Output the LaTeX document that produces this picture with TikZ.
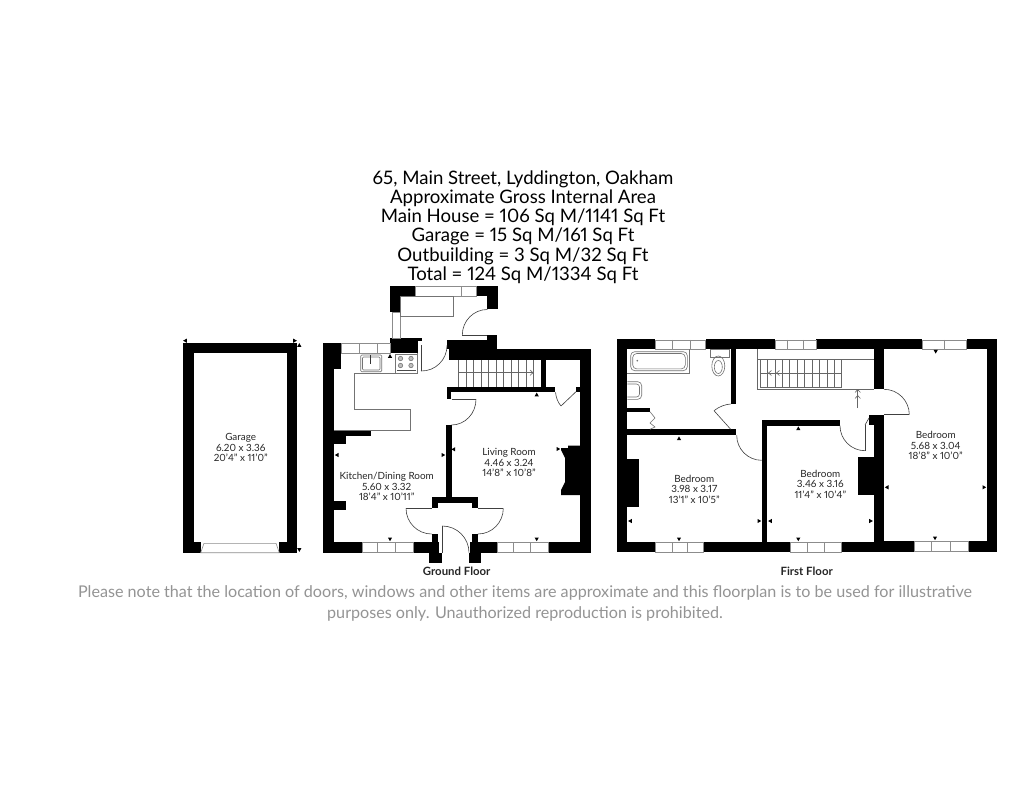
\documentclass[tikz,border=0pt]{standalone}
\usepackage{fontspec}
\setmainfont[Numbers=Proportional]{Lato}
\usepackage{tikz}
\usetikzlibrary{calc}
\usetikzlibrary{positioning}

% door swing: centre, start, end
\newcommand{\swing}[3]{\draw [doorline] (#2) .. controls ($(#2)+0.5523*(#3)-0.5523*(#1)$) and ($(#3)+0.5523*(#2)-0.5523*(#1)$) .. (#3);}
% small dimension mark: x, y, rotation
\newcommand{\dimtick}[3]{\fill [shift={(#1,#2)}, rotate=#3] (-2.1,1.8) -- (2.1,1.8) -- (0,-1.9) -- cycle;}

\begin{document}
\begin{tikzpicture}[x=1pt, y=-1pt]
\tikzstyle{wall} = [fill = black]
\tikzstyle{windowpane} = [fill = white, draw = black!45, line width = 0.6pt]
\tikzstyle{doorline} = [draw = black!75, line width = 0.6pt]
\tikzstyle{fitting} = [draw = black!55, line width = 0.6pt]
\tikzstyle{treadline} = [draw = black!60, line width = 0.6pt]
\tikzstyle{title} = [align = center, font = \fontsize{18.6}{19.2}\selectfont]
\tikzstyle{roomlabel} = [align = center, text = black!85, font = \fontsize{9.9}{10.6}\selectfont]
\tikzstyle{floorlabel} = [font = \fontsize{11.4}{12}\selectfont\bfseries, text = black!85]
\tikzstyle{notice} = [align = center, text = black!42, font = \fontsize{16.15}{21}\selectfont]
\useasboundingbox (0,0) rectangle (1024,791);
\fill [white] (0,0) rectangle (1024,791);

\node (heading) [title] at (523,227) {65, Main Street, Lyddington, Oakham\\Approximate Gross Internal Area\\Main House = 106 Sq M/1141 Sq Ft\\Garage = 15 Sq M/161 Sq Ft\\Outbuilding = 3 Sq M/32 Sq Ft\\Total = 124 Sq M/1334 Sq Ft};

% garage
\fill [wall] (182.7,342.7) rectangle (297.3,353.3);
\fill [wall] (182.7,342.7) rectangle (193.5,552.7);
\fill [wall] (286.5,342.7) rectangle (297.3,552.7);
\fill [wall] (182.7,542.3) rectangle (200.7,552.7);
\fill [wall] (279.3,542.3) rectangle (297.3,552.7);
\draw [windowpane] (200.7,552.7) -- (204,543.3) -- (276,543.3) -- (279.3,552.7) -- cycle;
\dimtick{185}{340.7}{90}
\dimtick{295}{340.7}{270}
\dimtick{299.3}{345}{0}
\dimtick{299.3}{550}{180}

% ground floor walls
\fill [wall] (323.3,342.7) rectangle (334.3,552.7);
\fill [wall] (334.3,342.7) rectangle (341,369);
\fill [wall] (390,338.3) rectangle (421.7,341);
\fill [wall] (390,341) rectangle (418,352.7);
\fill [wall] (446.7,340) rectangle (496.7,349);
\fill [wall] (449.3,349) rectangle (590.7,359.5);
\fill [wall] (580,349) rectangle (590.7,552.7);
\fill [wall] (540.7,359) rectangle (546,387);
\fill [wall] (446.7,386.7) rectangle (555,392.3);
\fill [wall] (446.7,392.3) rectangle (451.3,399.3);
\fill [wall] (576,386.7) rectangle (580,391.7);
\fill [wall] (446,425) rectangle (451.7,497.3);
\fill [wall] (334.3,430.3) rectangle (371,435.7);
\fill [wall] (334.3,435.7) rectangle (346,444);
\fill [wall] (334.3,500.7) rectangle (346,510);
\fill [wall] (431.7,497.3) rectangle (478,502.7);
\fill [wall] (431.7,502.7) rectangle (438.3,508.3);
\fill [wall] (471.7,502.7) rectangle (478,508.3);
\fill [wall] (431.7,534) rectangle (438.3,552.7);
\fill [wall] (471.7,534) rectangle (478,552.7);
\fill [wall] (429.3,552.7) rectangle (441.7,563.3);
\fill [wall] (469,552.7) rectangle (481,563.3);
\fill [wall] (323.3,542.3) rectangle (362.3,552.7);
\fill [wall] (413,542.3) rectangle (439,552.7);
\fill [wall] (470,542.3) rectangle (497.3,552.7);
\fill [wall] (548.3,542.3) rectangle (590.7,552.7);
\fill [wall] (568,445.5) -- (580,445.5) -- (580,495) -- (561,495) -- (561,490) -- (565,482) -- (565,458) -- (561,450) -- (561,448) -- (568,448) -- cycle;

% outbuilding walls
\fill [wall] (390,286) rectangle (415.7,296);
\fill [wall] (390,296) rectangle (400.7,312);
\fill [wall] (390,338) rectangle (400.7,341);
\fill [wall] (476.7,286) rectangle (497.7,296);
\fill [wall] (487.3,296) rectangle (497.7,309.3);
\fill [wall] (487.3,335) rectangle (496.7,349);
\draw [windowpane] (415.7,286.5) rectangle (476.7,296);
\draw [windowpane] (461,286.5) -- (461,296);
\draw [windowpane] (392,312) rectangle (400.7,338);
\draw [fitting] (400.7,296) rectangle (453.3,316);

% ground floor windows
\draw [windowpane] (341,343.2) rectangle (390,353);
\draw [windowpane] (359.3,343.2) -- (359.3,353);
\draw [windowpane] (377.3,343.2) -- (377.3,353);
\draw [windowpane] (362.3,542.3) rectangle (413,552.2);
\draw [windowpane] (377.3,542.3) -- (377.3,552.2);
\draw [windowpane] (395.7,542.3) -- (395.7,552.2);
\draw [windowpane] (497.3,542.3) rectangle (548.3,552.2);
\draw [windowpane] (513.3,542.3) -- (513.3,552.2);
\draw [windowpane] (530.7,542.3) -- (530.7,552.2);

% kitchen fittings
\draw [fitting] (417.3,353) -- (417.3,373.3) -- (354.3,373.3) -- (354.3,409.3) -- (410.7,409.3) -- (410.7,430.3) -- (334.3,430.3);
\draw [fitting, rounded corners=1pt] (360.7,355) rectangle (381.7,371.7);
\draw [fitting, rounded corners=1pt] (362.5,357) rectangle (380,370);
\fill [black!80] (369.5,355) rectangle (371,364);
\draw [fitting] (395,354) rectangle (417.3,373.3);
\draw [fitting, fill=black!25] (400.5,358.5) circle (2.2);
\draw [fitting, fill=black!25] (411,358.5) circle (2.2);
\draw [fitting, fill=black!25] (400.5,365.5) circle (2.2);
\draw [fitting, fill=black!25] (411,365.5) circle (2.2);
\draw [black!70, line width=1pt] (397,370.5) -- (415.5,370.5);

% ground floor doors
\draw [doorline] (462.3,335) -- (487.3,335);
\swing{487.3,335}{462.3,335}{487.3,309.5}
\draw [doorline] (421,345) -- (421,371);
\swing{421,345}{421,371}{447,345.5}
\draw [doorline] (451.5,399.3) -- (476,399.3);
\swing{451.5,399.3}{476,399.3}{451.5,425}
\draw [doorline] (406,508.3) -- (431.7,508.3);
\swing{431.7,508.3}{406,508.3}{431.7,534}
\draw [doorline] (478,508.3) -- (503.3,508.3);
\swing{478,508.3}{503.3,508.3}{478,534}
\draw [doorline] (442.3,526) -- (442.3,552.7);
\swing{442.3,552.7}{442.3,526}{469,552.7}
\draw [doorline] (576,391.7) -- (561,406);
\draw [doorline] (561,406) .. controls (557.5,402) and (556,397) .. (555.5,392.3);

% ground floor stairs
\draw [treadline] (458.3,372.7) -- (533,372.7);
\draw [treadline] (458.3,360) -- (458.3,386.7) (465.8,360) -- (465.8,386.7) (473.3,360) -- (473.3,386.7) (480.8,360) -- (480.8,386.7) (488.3,360) -- (488.3,386.7) (495.8,360) -- (495.8,386.7) (503.3,360) -- (503.3,386.7) (510.8,360) -- (510.8,386.7) (518.3,360) -- (518.3,386.7) (525.8,360) -- (525.8,386.7) (533.3,360) -- (533.3,386.7);
\draw [treadline] (530,370) -- (533,372.7) -- (530,375.4);

% ground floor marks
\dimtick{390}{356}{0}
\dimtick{336.7}{455}{90}
\dimtick{443.3}{455}{270}
\dimtick{453.3}{449.3}{90}
\dimtick{536.7}{394.5}{0}
\dimtick{558.3}{449}{270}
\dimtick{390}{539.3}{180}
\dimtick{536.7}{539.3}{180}

% first floor walls
\fill [wall] (617.3,339.3) rectangle (627.3,552.3);
\fill [wall] (617.3,339.3) rectangle (655,349.3);
\fill [wall] (705.7,339.3) rectangle (775,349.3);
\fill [wall] (816.3,339.3) rectangle (922.3,349.3);
\fill [wall] (966.7,339.3) rectangle (997.3,349.3);
\fill [wall] (986.7,339.3) rectangle (997.3,551.7);
\fill [wall] (617.3,542.3) rectangle (655,552.3);
\fill [wall] (703.7,542.3) rectangle (790,552.3);
\fill [wall] (841,542.3) rectangle (884,552.3);
\fill [wall] (884,541) rectangle (914.3,551.7);
\fill [wall] (968.3,541) rectangle (997.3,551.7);
\fill [wall] (730.7,349.3) rectangle (736,404);
\fill [wall] (627.3,429.3) rectangle (736,435.3);
\fill [wall] (627.3,407.7) rectangle (650,411.7);
\fill [wall] (627.3,459) rectangle (639.3,507.3);
\fill [wall] (761.7,420) rectangle (840,425.7);
\fill [wall] (761.7,425.7) rectangle (767,542.3);
\fill [wall] (874,349) rectangle (884,389.3);
\fill [wall] (869,415) rectangle (884,425);
\fill [wall] (874,425) rectangle (884,457);
\fill [wall] (858.3,456.7) rectangle (884,495);
\fill [wall] (874,495) rectangle (884,552);

% first floor windows
\draw [windowpane] (655,339.8) rectangle (705.7,349.3);
\draw [windowpane] (672.7,339.8) -- (672.7,349.3);
\draw [windowpane] (690,339.8) -- (690,349.3);
\draw [windowpane] (775,339.8) rectangle (816.3,349.3);
\draw [windowpane] (787.7,339.8) -- (787.7,349.3);
\draw [windowpane] (803.3,339.8) -- (803.3,349.3);
\draw [windowpane] (922.3,339.8) rectangle (966.7,349.3);
\draw [windowpane] (944.3,339.8) -- (944.3,349.3);
\draw [windowpane] (655,542.3) rectangle (703.7,551.8);
\draw [windowpane] (672,542.3) -- (672,551.8);
\draw [windowpane] (687.3,542.3) -- (687.3,551.8);
\draw [windowpane] (790,542.3) rectangle (841,551.8);
\draw [windowpane] (807.3,542.3) -- (807.3,551.8);
\draw [windowpane] (824.7,542.3) -- (824.7,551.8);
\draw [windowpane] (914.3,541) rectangle (968.3,551.2);
\draw [windowpane] (931.7,541) -- (931.7,551.2);
\draw [windowpane] (950.7,541) -- (950.7,551.2);

% bathroom fittings
\draw [fitting] (627.3,373.3) -- (689.3,373.3) -- (689.3,349.3);
\draw [fitting, rounded corners=4pt] (630.7,351.7) rectangle (687.3,370.7);
\draw [fitting, rounded corners=4pt] (632.7,353.5) rectangle (685.3,368.9);
\fill [black!55] (637.3,360.7) circle (0.9);
\draw [fitting] (710.7,349.3) rectangle (729,357.3);
\draw [fitting] (718.3,366) ellipse (6.5 and 10);
\draw [fitting] (718.3,367) ellipse (4 and 6.5);
\draw [fitting, rounded corners=4pt] (627.3,381.7) -- (641.7,381.7) -- (641.7,399.3) -- (627.3,399.3);
\draw [fitting, rounded corners=3pt] (627.3,384) -- (639.5,384) -- (639.5,397) -- (627.3,397);
\draw [fitting] (650,411.7) -- (655,418) -- (650,423) -- (655,427) -- (650,429.3);

% first floor doors
\draw [doorline] (714,410.7) .. controls (719,406.5) and (726,404.2) .. (730.7,404);
\draw [doorline] (714,410.7) -- (730.7,429.3);
\swing{761.7,435.3}{736.7,435.3}{761.7,460.3}
\draw [doorline] (865,425) -- (865,450.7);
\swing{865,425.7}{840,425.7}{865,450.7}
\draw [doorline] (865,425) -- (869,418);
\draw [doorline] (884,414.7) -- (909.3,414.7);
\swing{884,414.7}{884,389.3}{909.3,414.7}

% first floor stairs
\draw [treadline] (757.5,349.3) -- (757.5,389.2) -- (874,389.2);
\draw [treadline] (757.5,359.3) -- (874,359.3);
\draw [treadline] (760,373) -- (842.3,373);
\draw [treadline] (760,387) -- (842.3,387);
\draw [treadline] (760,359.3) -- (760,387) (767.4,359.3) -- (767.4,387) (774.9,359.3) -- (774.9,387) (782.3,359.3) -- (782.3,387) (789.7,359.3) -- (789.7,387) (797.1,359.3) -- (797.1,387) (804.5,359.3) -- (804.5,387) (812,359.3) -- (812,387) (819.4,359.3) -- (819.4,387) (826.8,359.3) -- (826.8,387) (834.2,359.3) -- (834.2,387) (841.6,359.3) -- (841.6,387);
\draw [treadline] (771.5,370.5) -- (768.5,373) -- (771.5,375.5);
\draw [treadline] (779.5,370.5) -- (776.5,373) -- (779.5,375.5);
\draw [treadline] (857.7,408) -- (857.7,389.5);
\draw [treadline] (855,392.5) -- (857.7,389.5) -- (860.4,392.5);
\draw [treadline] (855,398.5) -- (857.7,395.5) -- (860.4,398.5);

% first floor marks
\dimtick{679}{438.3}{0}
\dimtick{798.3}{428.3}{0}
\dimtick{935.7}{351.7}{180}
\dimtick{630}{521}{90}
\dimtick{759.3}{521}{270}
\dimtick{770}{521}{90}
\dimtick{871}{521}{270}
\dimtick{886.7}{487.3}{90}
\dimtick{984.3}{487.3}{270}
\dimtick{679}{539.3}{180}
\dimtick{798.3}{539.3}{180}
\dimtick{935}{538.3}{180}

% labels
\node (garage) [roomlabel] at (240.7,447.7) {Garage\\6.20 x 3.36\\20'4" x 11'0"};
\node (kitchen) [roomlabel] at (386.7,486.5) {Kitchen/Dining Room\\5.60 x 3.32\\18'4" x 10'11"};
\node (living) [roomlabel] at (509,462.7) {Living Room\\4.46 x 3.24\\14'8" x 10'8"};
\node (bedfront) [roomlabel] at (694.3,489) {Bedroom\\3.98 x 3.17\\13'1" x 10'5"};
\node (bedmid) [roomlabel] at (820.3,484) {Bedroom\\3.46 x 3.16\\11'4" x 10'4"};
\node (bedside) [roomlabel] at (935.7,445.7) {Bedroom\\5.68 x 3.04\\18'8" x 10'0"};
\node (ground) [floorlabel] at (456.7,571.7) {Ground Floor};
\node (first) [floorlabel] at (806.7,571.7) {First Floor};
\node (disclaimer) [notice] at (525,603.5) {Please note that the location of doors, windows and other items are approximate and this floorplan is to be used for illustrative\\purposes only. Unauthorized reproduction is prohibited.};
\end{tikzpicture}
\end{document}
